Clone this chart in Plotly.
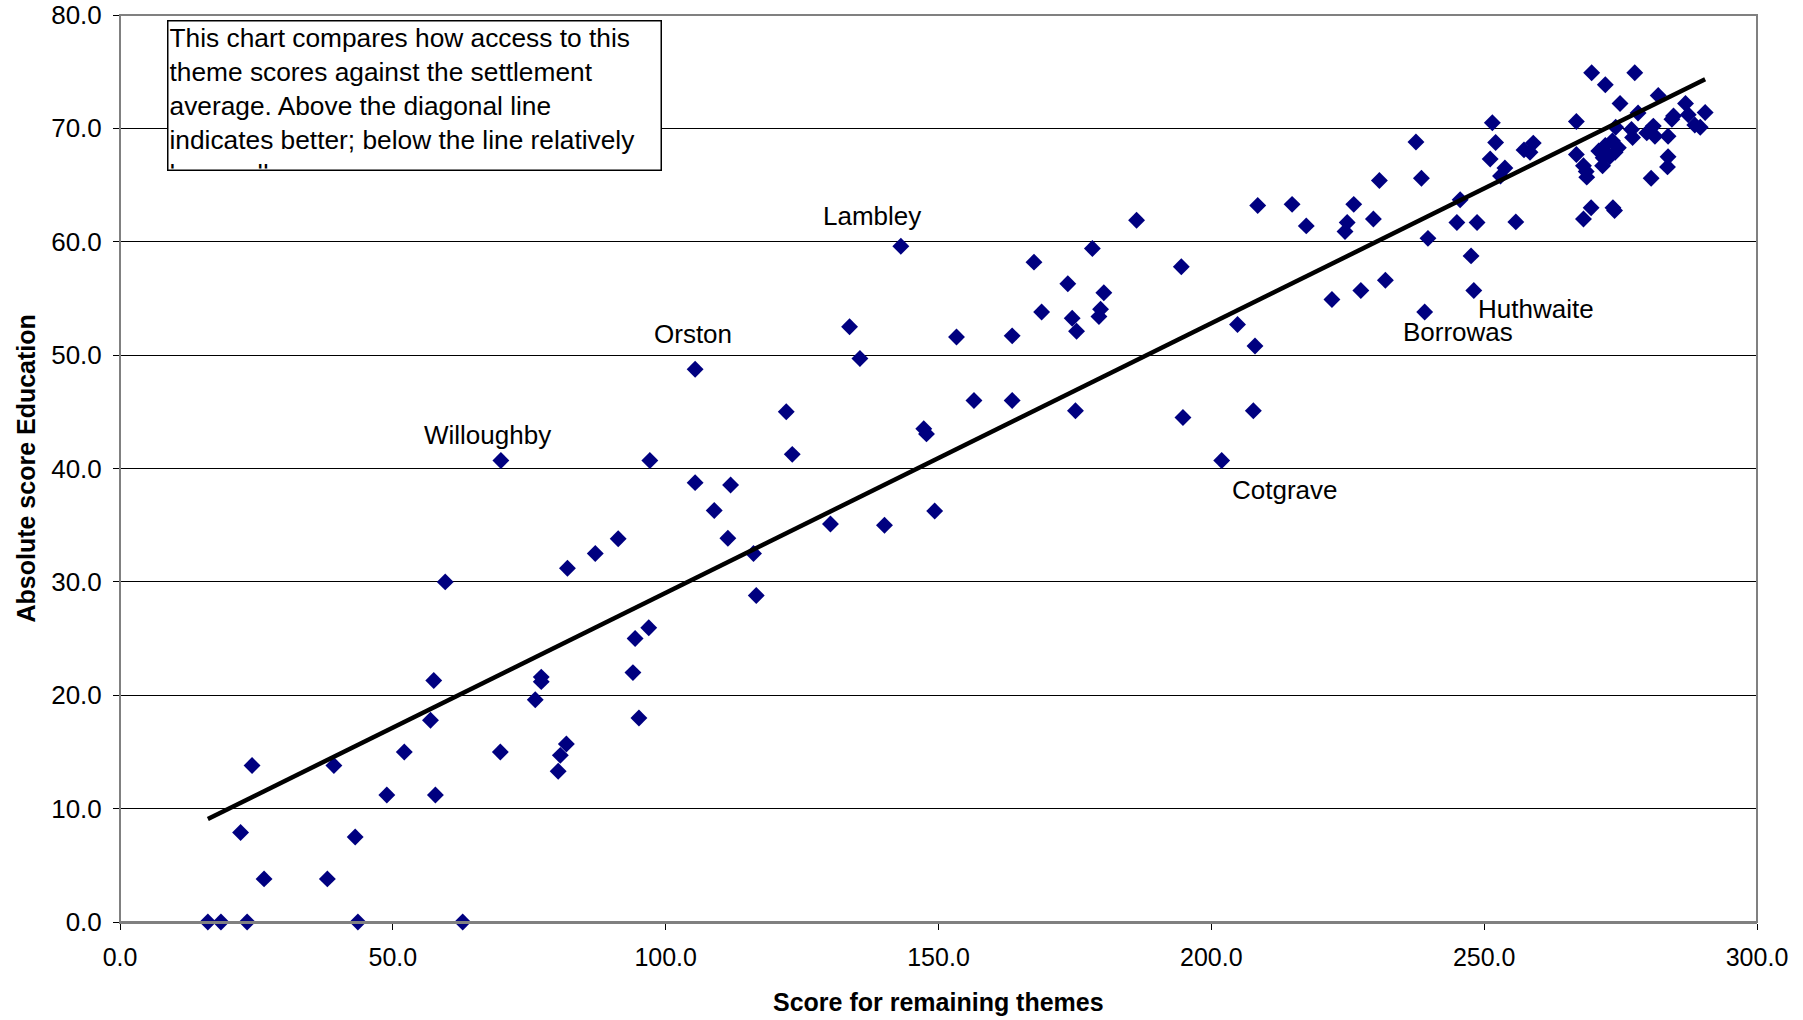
import numpy as np
import plotly.graph_objects as go

# settlement scores
remaining_score = [
    16.1, 18.5, 23.3, 43.6, 62.8, 24.2, 22.1, 26.4, 38.0, 39.2,
    43.1, 48.9, 52.1, 56.9, 57.5, 57.8, 59.6, 69.7, 76.1, 77.2,
    77.2, 81.8, 80.7, 80.3, 82.0, 69.8, 105.4, 122.1, 123.2, 97.1,
    105.4, 111.9, 108.9, 111.4, 91.3, 87.1, 116.1, 116.6, 96.9, 94.4,
    94.0, 95.1, 143.1, 186.3, 178.2, 167.5, 194.5, 173.7, 180.3, 168.9,
    179.7, 179.4, 174.5, 175.3, 133.7, 153.3, 163.5, 135.6, 156.5, 163.5,
    175.1, 194.8, 147.3, 147.8, 130.2, 140.1, 149.3, 201.9, 207.7, 204.8,
    208.0, 208.5, 214.8, 217.4, 226.1, 224.9, 224.5, 230.8, 229.7, 238.5,
    222.1, 227.4, 231.9, 239.1, 239.7, 245.6, 245.0, 248.7, 255.8, 247.6,
    248.1, 237.5, 251.5, 252.1, 251.1, 253.8, 253.0, 259.0, 257.3, 258.4,
    266.9, 269.7, 277.6, 272.2, 274.9, 281.9, 278.2, 286.9, 290.5, 284.4,
    284.7, 287.4, 288.6, 289.6, 274.1, 277.0, 277.2, 279.8, 281.0, 281.3,
    283.7, 266.9, 268.2, 268.7, 268.8, 271.7, 271.0, 272.2, 273.5, 274.6,
    273.0, 271.8, 274.0, 283.7, 283.6, 280.6, 269.6, 268.2, 273.6, 273.9,
]
education_score = [
    0.0, 0.0, 0.0, 0.0, 0.0, 13.8, 7.9, 3.8, 3.8, 13.8,
    7.5, 11.2, 15.0, 17.8, 21.3, 11.2, 30.0, 15.0, 19.6, 21.6,
    21.2, 15.7, 14.7, 13.3, 31.2, 40.7, 48.75, 45.0, 41.25, 40.7,
    38.75, 38.55, 36.3, 33.85, 33.8, 32.5, 32.5, 28.8, 25.95, 25.0,
    22.0, 18.0, 59.6, 61.9, 59.4, 58.2, 57.8, 56.3, 55.5, 53.8,
    54.05, 53.4, 53.25, 52.1, 52.5, 51.6, 51.7, 49.7, 46.0, 46.0,
    45.1, 44.5, 43.5, 43.05, 35.1, 35.0, 36.25, 40.7, 45.1, 52.7,
    50.8, 63.2, 63.3, 61.4, 63.3, 61.7, 60.9, 65.4, 62.0, 65.6,
    54.9, 55.7, 56.6, 53.8, 60.3, 63.7, 61.7, 61.7, 61.75, 58.75,
    55.7, 68.8, 70.5, 68.75, 67.3, 66.5, 65.8, 68.7, 68.1, 67.9,
    70.6, 74.9, 74.9, 73.85, 72.2, 72.9, 71.35, 72.2, 71.4, 70.8,
    71.1, 71.2, 70.3, 70.1, 70.1, 69.9, 69.2, 69.6, 70.2, 69.3,
    69.3, 67.7, 66.7, 66.2, 65.7, 66.7, 68.0, 68.5, 68.9, 68.3,
    67.5, 67.4, 67.9, 67.5, 66.6, 65.6, 63.0, 62.0, 63.0, 62.75,
]

# named settlements
label_names = ["Willoughby", "Orston", "Lambley", "Cotgrave", "Borrowas", "Huthwaite"]
label_x = [69.8, 105.4, 143.1, 201.9, 239.1, 248.1]
label_y = [40.7, 48.75, 59.6, 40.7, 53.8, 55.7]

note_text = ("This chart compares how access to this<br>theme scores against the settlement<br>"
             "average. Above the diagonal line<br>indicates better; below the line relatively<br>less well.")

FONT = "Liberation Sans, Arial, sans-serif"

# linear trendline through the points (as Excel does)
xs = np.array(remaining_score)
slope, intercept = np.polyfit(xs, np.array(education_score), 1)
trend_x = [xs.min(), xs.max()]
trend_y = [slope * v + intercept for v in trend_x]

fig = go.Figure()

fig.add_trace(go.Scatter(
    x=remaining_score, y=education_score, mode='markers',
    marker=dict(symbol='diamond', size=13, color='#000080', line=dict(width=0)),
    cliponaxis=False, showlegend=False
))
fig.add_trace(go.Scatter(
    x=trend_x, y=trend_y, mode='lines',
    line=dict(color='black', width=4.5), showlegend=False
))

# label offsets in pixels
offsets = {
    "Willoughby": (-13, 26), "Orston": (-2, 35), "Lambley": (-29, 30),
    "Cotgrave": (63, -29), "Borrowas": (33, -20), "Huthwaite": (62, -18),
}
for name, lx, ly in zip(label_names, label_x, label_y):
    dx, dy = offsets[name]
    fig.add_annotation(x=lx, y=ly, text=name, showarrow=False,
                       xshift=dx, yshift=dy, font=dict(size=26, color='black', family=FONT))

fig.add_annotation(
    xref='paper', yref='paper', x=0.029, y=0.995, xanchor='left', yanchor='top',
    text=note_text, showarrow=False, align='left', valign='top',
    width=490, height=146, borderpad=1, bordercolor='black', borderwidth=1.5,
    bgcolor='white', font=dict(size=26.3, color='black', family=FONT)
)

# axis titles
fig.add_annotation(xref='paper', yref='paper', x=0.5, y=-0.088, xanchor='center', yanchor='middle',
                   text='<b>Score for remaining themes</b>', showarrow=False,
                   font=dict(size=25, color='black', family=FONT))
fig.add_annotation(xref='paper', yref='paper', x=-0.058, y=0.5, xanchor='center', yanchor='middle',
                   text='<b>Absolute score Education</b>', textangle=-90, showarrow=False,
                   font=dict(size=25, color='black', family=FONT))

# plot area border
fig.add_shape(type='rect', xref='paper', yref='paper', x0=0, y0=0, x1=1, y1=1,
              line=dict(color='#808080', width=2), layer='above')

fig.update_layout(
    width=1803, height=1020,
    margin=dict(l=120, r=46, t=15, b=98),
    paper_bgcolor='white', plot_bgcolor='white',
    font=dict(family=FONT, size=25, color='black'),
    xaxis=dict(
        range=[0, 300], dtick=50, tickformat='.1f', automargin=False,
        showgrid=False, zeroline=False,
        ticks='outside', ticklen=6, tickcolor='black', ticklabelstandoff=6,
        showline=True, linecolor='#808080', linewidth=2,
    ),
    yaxis=dict(
        range=[0, 80], dtick=10, tickformat='.1f', automargin=False,
        showgrid=True, gridcolor='black', gridwidth=1, zeroline=False,
        ticks='outside', ticklen=6, tickcolor='black', ticklabelstandoff=6,
        tickfont=dict(size=26),
        showline=True, linecolor='black', linewidth=1,
    ),
)

fig.write_html("out.html", config={'displayModeBar': False},
               post_script="document.body.style.margin='0';")
